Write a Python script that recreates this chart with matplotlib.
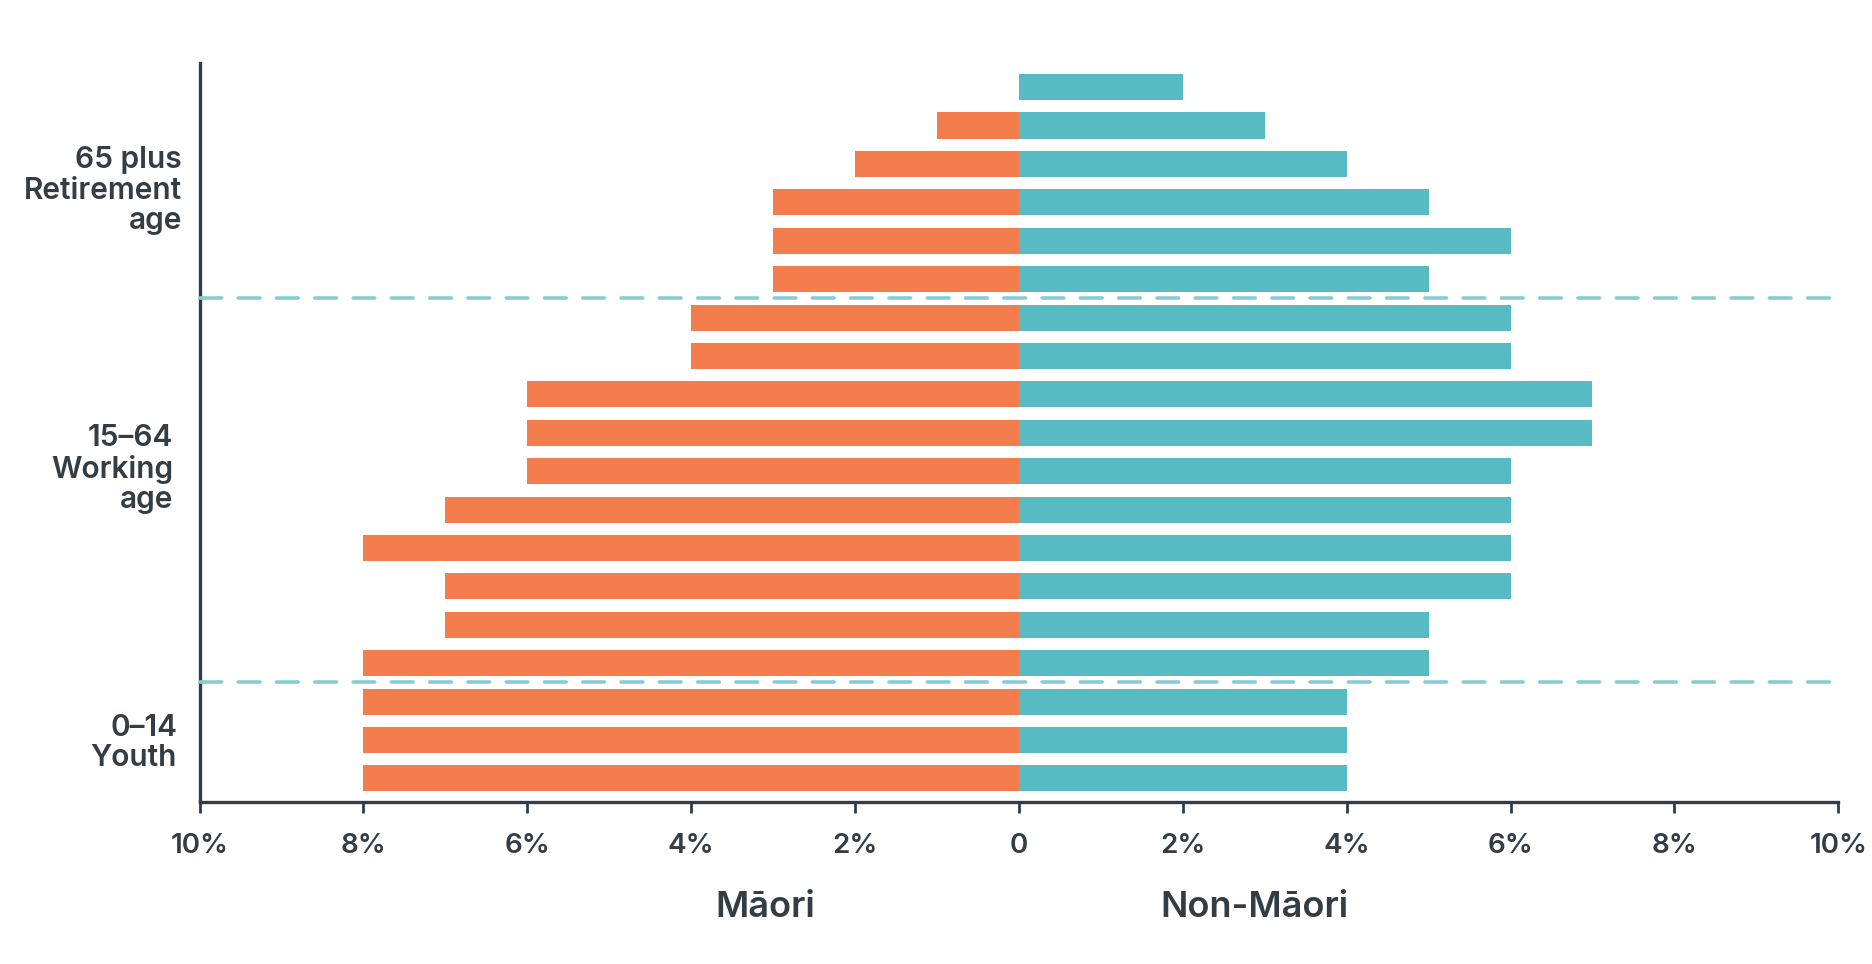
import matplotlib
matplotlib.use("Agg")
import matplotlib.pyplot as plt
import matplotlib.transforms as mtransforms

plt.rcParams['font.family'] = ['Inter', 'DejaVu Sans']

# Data: rows listed from top (oldest) to bottom (youngest)
maori = [0, 1, 2, 3, 3, 3, 4, 4, 6, 6, 6, 7, 8, 7, 7, 8, 8, 8, 8]
non_maori = [2, 3, 4, 5, 6, 5, 6, 6, 7, 7, 6, 6, 6, 6, 5, 5, 4, 4, 4]
group_labels = ["65 plus\nRetirement\nage", "15\u201364\nWorking\nage", "0\u201314\nYouth"]
x_ticks = [-10, -8, -6, -4, -2, 0, 2, 4, 6, 8, 10]
x_ticklabels = ["10%", "8%", "6%", "4%", "2%", "0", "2%", "4%", "6%", "8%", "10%"]
side_titles = ["M\u0101ori", "Non-M\u0101ori"]

ORANGE = "#F47D4E"
TEAL = "#58BBC4"
DASH = "#86CDD3"
DARK = "#333D45"

n = len(maori)
ypos = [n - 1 - i for i in range(n)]

fig = plt.figure(figsize=(18.72, 9.64), dpi=100)
ax = fig.add_axes([0.1066, 0.168, 0.982 - 0.1066, 0.9347 - 0.168])

bar_h = 0.68
ax.barh(ypos, [-v for v in maori], height=bar_h, color=ORANGE, linewidth=0)
ax.barh(ypos, non_maori, height=bar_h, color=TEAL, linewidth=0)

# group separators
for yb in [12.5, 2.5]:
    ax.axhline(yb, color=DASH, lw=2.6, dashes=(6.0, 4.6), dash_capstyle='round',
               zorder=3, clip_on=False)

ax.set_xlim(-10, 10)
ax.set_ylim(-0.615, n - 1 + 0.63)

for s in ['top', 'right']:
    ax.spines[s].set_visible(False)
for s in ['left', 'bottom']:
    ax.spines[s].set_color(DARK)
    ax.spines[s].set_linewidth(2.4)

ax.set_yticks([])
ax.set_xticks(x_ticks)
ax.set_xticklabels(x_ticklabels, fontsize=20, fontweight='semibold', color=DARK)
ax.tick_params(axis='x', direction='out', length=8, width=2, color=DARK, pad=14)

# group labels on the left
trans = mtransforms.blended_transform_factory(ax.transAxes, ax.transData)
label_x = [-0.0107, -0.016, -0.0137]
label_y = [15.3, 8.05, 0.92]
for txt, lx, ly in zip(group_labels, label_x, label_y):
    ax.text(lx, ly, txt, transform=trans, ha='right', va='center',
            multialignment='right', fontsize=21.5, fontweight='semibold',
            color=DARK, linespacing=1.12)

# side titles under the axis
trans2 = mtransforms.blended_transform_factory(ax.transData, ax.transAxes)
ax.text(-3.1, -0.142, side_titles[0], transform=trans2, ha='center', va='center',
        fontsize=26, fontweight='semibold', color=DARK)
ax.text(2.88, -0.142, side_titles[1], transform=trans2, ha='center', va='center',
        fontsize=26, fontweight='semibold', color=DARK)

fig.savefig("out.png", dpi=100, facecolor='white')
